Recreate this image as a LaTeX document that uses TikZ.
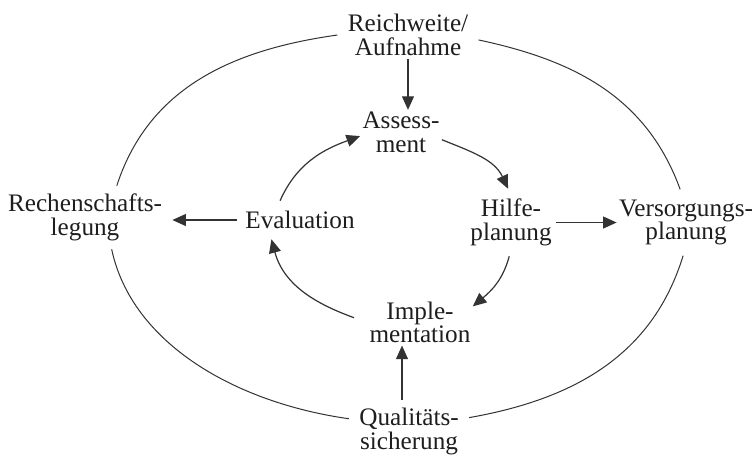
\documentclass[tikz,border=0pt]{standalone}
\usepackage{fontspec}
\setmainfont{Liberation Serif}
\usetikzlibrary{arrows.meta}

\definecolor{ink}{HTML}{333333}
\definecolor{type}{HTML}{1E1E1E}

\begin{document}
\begin{tikzpicture}[x=0.5pt, y=-0.5pt,
    stage/.style={align=center, text=type, font=\fontsize{12.6}{11.8}\selectfont},
    flow/.style={draw=ink, line width=0.6pt, -{Triangle[length=6.8pt, width=6pt]}},
    ring/.style={draw=ink, line width=0.5pt}]
            % Fixed frame, same size as the scan
            \path[use as bounding box, fill=white] (0,0) rectangle (755,457);

            \node[stage, inner xsep=5pt, inner ysep=1.5pt] (reich) at (408,35) {Reichweite/\\Aufnahme};
            \node[stage, inner xsep=5pt, inner ysep=4pt] (rech) at (85,217.5) {Rechenschafts-\\legung};
            \node[stage, inner xsep=1pt, inner ysep=5pt] (vers) at (686,222.5) {Versorgungs-\\planung};
            \node[stage, inner xsep=5pt, inner ysep=4pt] (qual) at (409,431.5) {Qualitäts-\\sicherung};

            \node[stage, inner sep=1pt] (assess) at (401,132.5) {Assess-\\ment};
            \node[stage, inner xsep=2pt, inner ysep=5pt] (hilfe) at (511,222.5) {Hilfe-\\planung};
            \node[stage, inner sep=1pt] (impl) at (420,322.5) {Imple-\\mentation};
            \node[stage, inner xsep=4pt, inner ysep=5pt] (eval) at (300,220) {Evaluation};

            \draw[ring] (reich.west) to[out=188, in=72] (rech.45);
            \draw[ring] (reich.-4) to[out=-12, in=110] (vers.100);
            \draw[ring] (vers.-95) to[out=-107, in=10] (qual.13);
            \draw[ring] (qual.168) to[out=172, in=-78, in looseness=0.85] (rech.-50);

            \draw[flow] (reich.south) -- (reich.south |- assess.north);
            \draw[flow] (assess.-10) to[out=-22, in=115] (hilfe.95);
            \draw[flow] (hilfe.-93) to[out=-105, in=40] (impl.17);
            \draw[flow, shorten <=7pt] (impl.west) to[out=160, in=-75] (eval.-146);
            \draw[flow] (eval.136) to[out=66, in=200] (assess.185);
            \draw[flow] (eval.west) -- (eval.west -| rech.east);
            \draw[flow] (hilfe.east) -- (hilfe.east -| vers.west);
            \draw[flow] ([xshift=-3.5pt]qual.north) -- ([xshift=-3.5pt]qual.north |- impl.south);
        \end{tikzpicture}
\end{document}
